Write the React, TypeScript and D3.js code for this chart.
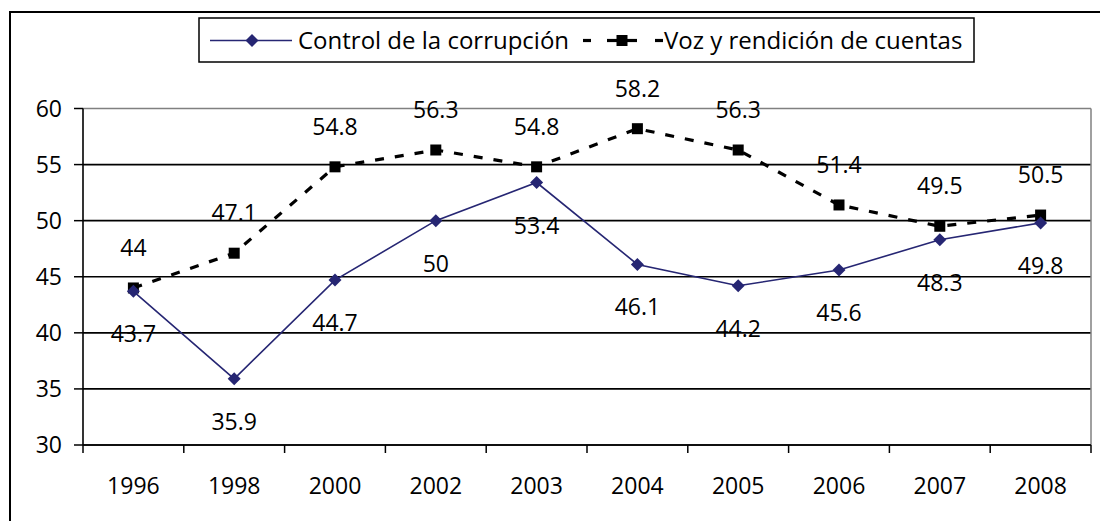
import React from "react";
import * as d3 from "d3";

const years = ["1996", "1998", "2000", "2002", "2003", "2004", "2005", "2006", "2007", "2008"];
const control = [43.7, 35.9, 44.7, 50, 53.4, 46.1, 44.2, 45.6, 48.3, 49.8];
const voz = [44, 47.1, 54.8, 56.3, 54.8, 58.2, 56.3, 51.4, 49.5, 50.5];
const yTicks = [30, 35, 40, 45, 50, 55, 60];
const seriesNames = ["Control de la corrupción", "Voz y rendición de cuentas"];

const W = 1100;
const H = 521;
const FONT = "'Open Sans', sans-serif";
const NAVY = "#262673";

export default function App() {
  const x = d3.scaleBand<string>().domain(years).range([83, 1091]).padding(0);
  const y = d3.scaleLinear().domain([30, 60]).range([445, 108.5]);
  const cx = (d: string) => (x(d) as number) + x.bandwidth() / 2;

  const line = d3
    .line<number>()
    .x((_, i) => cx(years[i]))
    .y((v) => y(v));

  const diamond = (px: number, py: number, r: number) =>
    `M${px},${py - r}L${px + r},${py}L${px},${py + r}L${px - r},${py}Z`;

  const [x0, x1] = x.range();
  const legendDashes: [number, number][] = [
    [583, 591],
    [607, 637],
    [655, 663],
  ];

  return (
    <svg
      width={W}
      height={H}
      style={{ position: "absolute", left: 0, top: 0, background: "#fff" }}
      fontFamily={FONT}
    >
      <rect x={0} y={0} width={W} height={H} fill="#fff" />
      {/* outer chart frame */}
      <rect x={10} y={12} width={1200} height={600} fill="none" stroke="#000" strokeWidth={2} />

      {/* gridlines */}
      {yTicks.map((t) => (
        <line
          key={"g" + t}
          x1={x0}
          x2={x1}
          y1={y(t)}
          y2={y(t)}
          stroke={t === 60 ? "#808080" : "#000"}
          strokeWidth={t === 60 ? 1.5 : 1.6}
        />
      ))}
      {/* plot area right border */}
      <line x1={x1} x2={x1} y1={y(60)} y2={y(30)} stroke="#808080" strokeWidth={1.5} />

      {/* y axis */}
      <line x1={x0} x2={x0} y1={y(60)} y2={y(30)} stroke="#000" strokeWidth={1.6} />
      {yTicks.map((t) => (
        <g key={"yt" + t}>
          <line x1={x0 - 9} x2={x0} y1={y(t)} y2={y(t)} stroke="#000" strokeWidth={1.5} />
          <text x={62} y={y(t)} dy="0.35em" textAnchor="end" fontSize={23} fill="#000">
            {t}
          </text>
        </g>
      ))}

      {/* x axis */}
      <line x1={x0} x2={x1} y1={y(30)} y2={y(30)} stroke="#000" strokeWidth={1.6} />
      {years.map((yr) => (
        <line
          key={"xt" + yr}
          x1={x(yr) as number}
          x2={x(yr) as number}
          y1={y(30)}
          y2={y(30) + 8}
          stroke="#000"
          strokeWidth={1.5}
        />
      ))}
      <line x1={x1} x2={x1} y1={y(30)} y2={y(30) + 8} stroke="#000" strokeWidth={1.5} />
      {years.map((yr) => (
        <text key={"xl" + yr} x={cx(yr)} y={494} textAnchor="middle" fontSize={23} fill="#000">
          {yr}
        </text>
      ))}

      {/* Voz series */}
      <path d={line(voz) || ""} fill="none" stroke="#000" strokeWidth={3.2} strokeDasharray="9,11" />
      {voz.map((v, i) => (
        <rect key={"vm" + i} x={cx(years[i]) - 5.5} y={y(v) - 5.5} width={11} height={11} fill="#000" />
      ))}

      {/* Control series */}
      <path d={line(control) || ""} fill="none" stroke={NAVY} strokeWidth={1.6} />
      {control.map((v, i) => (
        <path key={"cm" + i} d={diamond(cx(years[i]), y(v), 6.5)} fill={NAVY} />
      ))}

      {/* data labels */}
      {voz.map((v, i) => (
        <text key={"vl" + i} x={cx(years[i])} y={y(v) - 32} textAnchor="middle" fontSize={23} fill="#000">
          {v}
        </text>
      ))}
      {control.map((v, i) => (
        <text key={"cl" + i} x={cx(years[i])} y={y(v) + 51} textAnchor="middle" fontSize={23} fill="#000">
          {v}
        </text>
      ))}

      {/* legend */}
      <rect x={199} y={18} width={775} height={44} fill="#fff" stroke="#000" strokeWidth={1.5} />
      <line x1={210} x2={292} y1={40.5} y2={40.5} stroke={NAVY} strokeWidth={1.6} />
      <path d={diamond(252, 40.5, 6.5)} fill={NAVY} />
      <text x={298} y={48.5} fontSize={24} fill="#000">
        {seriesNames[0]}
      </text>
      {legendDashes.map(([a, b], i) => (
        <line key={"ld" + i} x1={a} x2={b} y1={40.5} y2={40.5} stroke="#000" strokeWidth={3.2} />
      ))}
      <rect x={616.5} y={35} width={11} height={11} fill="#000" />
      <text x={664} y={48.5} fontSize={24} fill="#000">
        {seriesNames[1]}
      </text>
    </svg>
  );
}
